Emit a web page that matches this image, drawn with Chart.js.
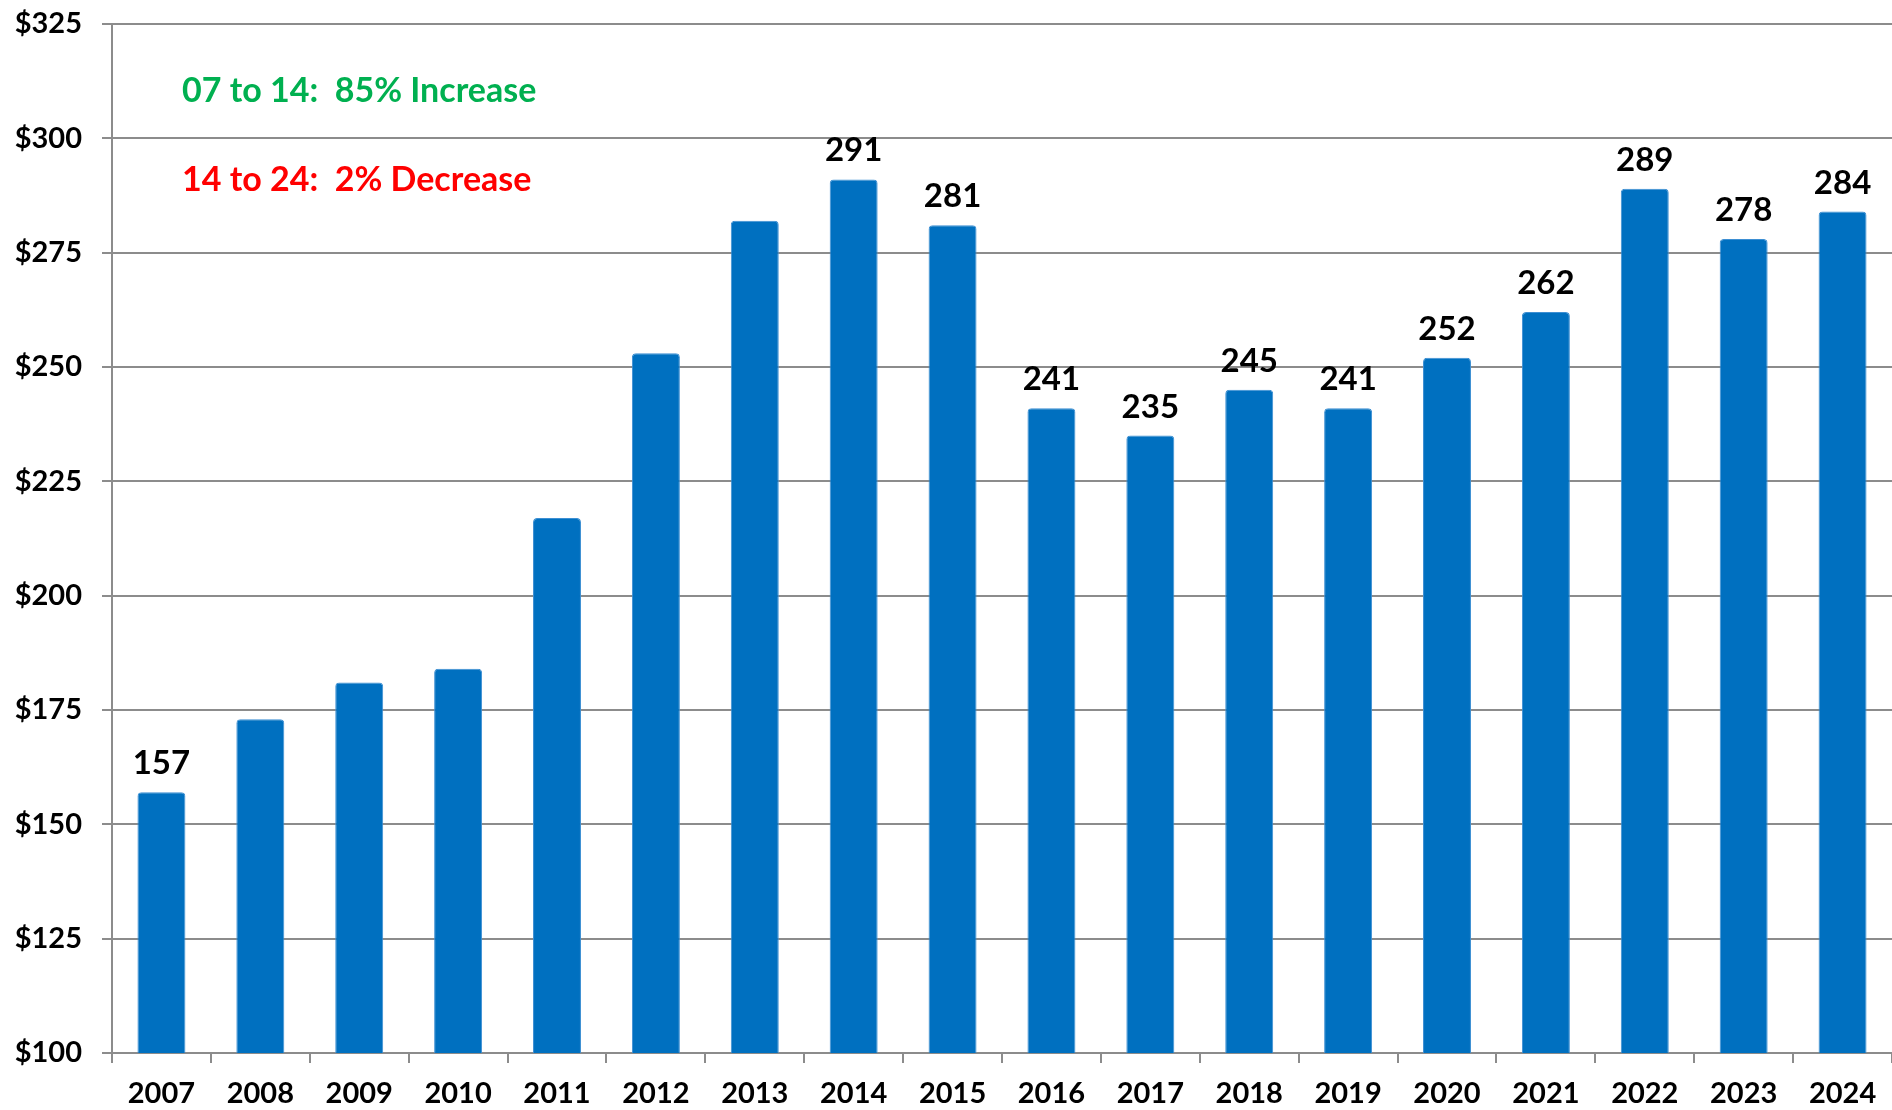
<!DOCTYPE html>
<html>
<head>
<meta charset="utf-8">
<script src="https://cdn.jsdelivr.net/npm/chart.js@4.4.1/dist/chart.umd.min.js"></script>
<style>
  html, body { margin: 0; padding: 0; background: #fff; }
  #wrap { position: relative; width: 1892px; height: 1110px; }
</style>
</head>
<body>
<div id="wrap"><canvas id="bar-chart"></canvas></div>
<script>
const years = ["2007", "2008", "2009", "2010", "2011", "2012", "2013", "2014", "2015",
  "2016", "2017", "2018", "2019", "2020", "2021", "2022", "2023", "2024"];
const values = [157, 173, 181, 184, 217, 253, 282, 291, 281, 241, 235, 245, 241, 252, 262, 289, 278, 284];
// only these bars carry a value label in the original
const shownLabels = [157, null, null, null, null, null, null, 291, 281, 241, 235, 245, 241, 252, 262, 289, 278, 284];
const yMin = 100, yMax = 325, yStep = 25;
const notes = [
  { text: "07 to 14:  85% Increase", color: "#00B050" },
  { text: "14 to 24:  2% Decrease", color: "#FF0000" }
];

const FONT = "Lato, 'Open Sans', sans-serif";
const gridGrey = "#8c8c8c";

const barNotes = {
  id: 'barNotes',
  afterDatasetsDraw(chart) {
    const { ctx, chartArea } = chart;
    const meta = chart.getDatasetMeta(0);
    ctx.save();
    ctx.font = "bold 33px " + FONT;
    ctx.fillStyle = "#000";
    ctx.textAlign = "center";
    ctx.textBaseline = "alphabetic";
    meta.data.forEach((bar, i) => {
      if (shownLabels[i] == null) return;
      ctx.fillText(String(shownLabels[i]), bar.x, bar.y - 18);
    });
    ctx.font = "bold 34px " + FONT;
    ctx.textAlign = "left";
    notes.forEach((n, i) => {
      ctx.fillStyle = n.color;
      ctx.fillText(n.text, chartArea.left + 70, chartArea.top + 78 + i * 89);
    });
    ctx.restore();
  }
};

function draw() {
  new Chart(document.getElementById("bar-chart"), {
    type: 'bar',
    data: {
      labels: years,
      datasets: [{
        data: values,
        backgroundColor: "#0070C0",
        borderColor: "#3d8fd3",
        borderWidth: 1,
        borderSkipped: 'bottom',
        borderRadius: { topLeft: 4, topRight: 4 },
        categoryPercentage: 0.485,
        barPercentage: 1
      }]
    },
    options: {
      responsive: true,
      maintainAspectRatio: false,
      animation: false,
      layout: { padding: { top: 24, right: 0, left: 0, bottom: 0 } },
      plugins: { legend: { display: false }, tooltip: { enabled: false } },
      scales: {
        x: {
          grid: { display: true, drawOnChartArea: false, drawTicks: true, tickLength: 10, offset: true, color: gridGrey, lineWidth: 2 },
          border: { display: true, color: gridGrey, width: 2 },
          ticks: { color: "#000", font: { family: FONT, size: 29, weight: 'bold' }, padding: 13, maxRotation: 0, autoSkip: false },
          afterFit(scale) { scale.height = 57; scale.paddingLeft = 0; scale.paddingRight = 0; }
        },
        y: {
          min: yMin, max: yMax,
          grid: { color: gridGrey, lineWidth: 2, tickLength: 10 },
          border: { display: true, color: gridGrey, width: 2 },
          ticks: {
            stepSize: yStep,
            color: "#000",
            font: { family: FONT, size: 29, weight: 'bold' },
            padding: 20,
            callback: v => "$" + v
          },
          afterFit(scale) { scale.width = 112; scale.paddingTop = 0; scale.paddingBottom = 0; }
        }
      }
    },
    plugins: [barNotes]
  });
}

document.fonts.load("bold 29px Lato").then(draw, draw);
</script>
</body>
</html>
